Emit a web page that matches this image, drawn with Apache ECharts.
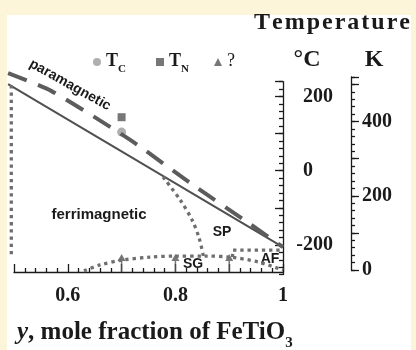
<!DOCTYPE html>
<html>
<head>
<meta charset="utf-8">
<script src="https://cdn.jsdelivr.net/npm/echarts@6/dist/echarts.min.js"></script>
<style>
html, body { margin: 0; padding: 0; background: #fdf5d9; }
#main { width: 416px; height: 350px; }
</style>
</head>
<body>
<div id="main"></div>
<script>
// phase boundaries, x = y (mole fraction FeTiO3), value = temperature in K
var tcBoundary = [[0.489, 506], [1.0, 67]];
var neelBoundary = [[0.489, 536], [0.569, 488], [0.716, 356], [0.835, 232], [0.939, 129], [1.0, 67]];
var ferriEdge = [[0.495, 503], [0.495, 48]];
var spBoundary = [[0.777, 256], [0.809, 194], [0.831, 140], [0.844, 92], [0.852, 43]];
var sgBoundary = [[0.630, 3], [0.660, 19], [0.701, 32], [0.753, 40], [0.801, 43], [0.855, 43], [0.902, 40], [0.954, 27], [1.0, 5]];
var afBoundary = [[0.906, 40], [0.907, 59], [1.0, 59]];

// measured points
var tcPoints = [[0.70, 377]];
var tnPoints = [[0.70, 417]];
var unknownPoints = [[0.7, 38], [0.8, 38], [0.9, 38]];

// tick labels
var xLabels = [0.6, 0.8, 1];
var celsiusLabels = [-200, 0, 200];
var kelvinLabels = [0, 200, 400];

var SERIF = '"Liberation Serif", "Times New Roman", serif';
var SANS = '"Liberation Sans", Arial, sans-serif';
var INK = '#1a1a1a';
var HS = '\u200A'; // hair space, the title is letter spaced

// lines start a little left of y = 0.5 and above the top tick,
// so the marks live in a slightly wider grid (same scale) that is not clipped
var PLOT = 4;

function tickLine(len) {
    return {inside: true, length: len, lineStyle: {color: INK, width: 1.3}};
}
function axisLine(show) {
    return {show: show, onZero: false, lineStyle: {color: INK, width: 1.3}};
}
function hiddenX(i, min) {
    return {gridIndex: i, type: 'value', show: false, min: min, max: 1};
}
function onPlot(s) {
    s.xAxisIndex = PLOT;
    s.yAxisIndex = PLOT + 1;
    return s;
}
function dotted(data, smooth) {
    return onPlot({
        type: 'line', data: data, symbol: 'none', smooth: smooth, silent: true,
        lineStyle: {color: '#6e6e6e', width: 3.3, type: [3.3, 3.9], cap: 'butt'}
    });
}
function plainText(txt, x, y, size) {
    return {
        type: 'text', x: x, y: y, silent: true,
        style: {text: txt, fontFamily: SANS, fontWeight: 'bold', fontSize: size, fill: INK, align: 'center', verticalAlign: 'middle'}
    };
}

var legendRich = {
    t: {fontFamily: SERIF, fontWeight: 'bold', fontSize: 18, color: INK, lineHeight: 20, verticalAlign: 'top'},
    s: {fontFamily: SERIF, fontWeight: 'bold', fontSize: 11, color: INK, lineHeight: 11, padding: [12, 0, 0, 0], verticalAlign: 'top'},
    q: {fontFamily: SERIF, fontSize: 18, color: INK, lineHeight: 20, verticalAlign: 'top'}
};
function legendAt(name, left, icon) {
    return {
        data: [{name: name, icon: icon}], left: left, top: 52, padding: 0,
        itemWidth: 8, itemHeight: 8, selectedMode: false,
        textStyle: {rich: legendRich},
        formatter: function (n) {
            if (n === 'Tc') return '{t|T}{s|C}';
            if (n === 'TN') return '{t|T}{s|N}';
            return '{q|?}';
        }
    };
}

var myChart = echarts.init(document.getElementById('main'));
myChart.setOption({
    animation: false,
    backgroundColor: '#fdf5d9',
    grid: [
        {left: 14, width: 269, top: 79, height: 193, outerBoundsMode: 'none'},       // x axis, 0..520 K
        {left: 14, width: 269, top: 81.6, height: 193, outerBoundsMode: 'none'},     // °C small ticks
        {left: 14, width: 269, top: 81.6, height: 163.3, outerBoundsMode: 'none'},   // °C big ticks
        {left: 351, width: 40, top: 77, height: 193, outerBoundsMode: 'none'},       // K scale
        {left: 5.93, width: 277.07, top: 64.15, height: 207.85, outerBoundsMode: 'none'} // marks, 0.485..1, 0..560 K
    ],
    legend: [legendAt('Tc', 93, 'circle'), legendAt('TN', 156, 'rect'), legendAt('?', 214, 'triangle')],
    xAxis: [{
        gridIndex: 0, type: 'value', min: 0.5, max: 1, interval: 0.1,
        axisLine: axisLine(true),
        axisTick: tickLine(8),
        minorTick: {show: true, splitNumber: 5, length: 4, lineStyle: {color: INK, width: 1.3}},
        minorSplitLine: {show: false},
        splitLine: {show: false},
        axisLabel: {
            margin: 14, color: INK, fontFamily: SERIF, fontWeight: 'bold', fontSize: 20,
            formatter: function (v) {
                var r = Math.round(v * 100) / 100;
                return xLabels.indexOf(r) >= 0 ? String(r) : '';
            }
        }
    }, hiddenX(1, 0), hiddenX(2, 0), hiddenX(3, 0), hiddenX(4, 0.485)],
    yAxis: [
        {gridIndex: 0, type: 'value', min: 0, max: 520, show: false, axisLine: {onZero: false}},
        {
            gridIndex: 1, type: 'value', position: 'right', min: -280, max: 240, interval: 20,
            axisLine: axisLine(true),
            axisTick: tickLine(4), axisLabel: {show: false}, splitLine: {show: false}
        },
        {
            gridIndex: 2, type: 'value', position: 'right', min: -200, max: 240, interval: 100,
            axisLine: axisLine(false), axisTick: tickLine(8), splitLine: {show: false},
            axisLabel: {
                margin: 50, align: 'right', color: INK,
                rich: {
                    n: {fontFamily: SERIF, fontWeight: 'bold', fontSize: 20, color: INK},
                    z: {fontFamily: SERIF, fontWeight: 'bold', fontSize: 20, color: INK, padding: [0, 20, 0, 0]}
                },
                formatter: function (v) {
                    if (celsiusLabels.indexOf(v) < 0) return '';
                    return v === 0 ? '{z|0}' : '{n|' + v + '}';
                }
            }
        },
        {
            gridIndex: 3, type: 'value', position: 'left', min: 0, max: 520, interval: 20,
            axisLine: axisLine(true),
            axisTick: tickLine(4), axisLabel: {show: false}, splitLine: {show: false}
        },
        {
            gridIndex: 3, type: 'value', position: 'left', min: 0, max: 520, interval: 100,
            axisLine: axisLine(false), axisTick: tickLine(8), splitLine: {show: false},
            axisLabel: {
                inside: true, margin: 11, color: INK, fontFamily: SERIF, fontWeight: 'bold', fontSize: 20,
                formatter: function (v) {
                    return kelvinLabels.indexOf(v) >= 0 ? String(v) : '';
                }
            }
        },
        {gridIndex: 4, type: 'value', min: 0, max: 560, show: false, axisLine: {onZero: false}}
    ],
    graphic: {elements: [
        {type: 'rect', z: -100, silent: true, shape: {x: 7, y: 15, width: 404, height: 335}, style: {fill: '#fff'}},
        {
            type: 'text', x: 332, y: 23, silent: true,
            style: {text: 'Temperature'.split('').join(HS), fontFamily: SERIF, fontWeight: 'bold', fontSize: 24, fill: INK, align: 'center', verticalAlign: 'middle'}
        },
        {
            type: 'text', x: 307, y: 60, silent: true,
            style: {text: '°C', fontFamily: SERIF, fontWeight: 'bold', fontSize: 24, fill: INK, align: 'center', verticalAlign: 'middle'}
        },
        {
            type: 'text', x: 374, y: 60, silent: true,
            style: {text: 'K', fontFamily: SERIF, fontWeight: 'bold', fontSize: 24, fill: INK, align: 'center', verticalAlign: 'middle'}
        },
        {
            type: 'text', x: 70, y: 85, rotation: -0.51, silent: true,
            style: {text: 'paramagnetic', fontFamily: SANS, fontWeight: 'bold', fontSize: 14, fill: INK, align: 'center', verticalAlign: 'middle'}
        },
        plainText('ferrimagnetic', 99, 215, 15),
        plainText('SP', 222, 232, 14),
        plainText('SG', 193, 264, 14),
        plainText('AF', 270, 259, 14),
        {
            type: 'text', x: 17, y: 335, silent: true,
            style: {
                text: '{i|y}{b|, mole fraction of FeTiO}{s|3}', align: 'left', verticalAlign: 'middle',
                rich: {
                    i: {fontFamily: SERIF, fontWeight: 'bold', fontStyle: 'italic', fontSize: 25, fill: INK, lineHeight: 30, verticalAlign: 'top'},
                    b: {fontFamily: SERIF, fontWeight: 'bold', fontSize: 25, fill: INK, lineHeight: 30, verticalAlign: 'top'},
                    s: {fontFamily: SERIF, fontWeight: 'bold', fontSize: 15, fill: INK, lineHeight: 15, padding: [16, 0, 0, 0], verticalAlign: 'top'}
                }
            }
        }
    ]},
    series: [
        onPlot({
            name: 'ferri', type: 'line', data: tcBoundary, symbol: 'none', silent: true,
            lineStyle: {color: '#505050', width: 2}
        }),
        onPlot({
            name: 'neel', type: 'line', data: neelBoundary, symbol: 'none', smooth: 0.2, silent: true,
            lineStyle: {color: '#5c5c5c', width: 4, type: [20, 12]}
        }),
        dotted(ferriEdge, false),
        dotted(spBoundary, 0.3),
        dotted(sgBoundary, 0.3),
        dotted(afBoundary, false),
        onPlot({
            name: 'Tc', type: 'scatter', data: tcPoints, symbol: 'circle', symbolSize: 9,
            itemStyle: {color: '#9b9b9b'}
        }),
        onPlot({
            name: 'TN', type: 'scatter', data: tnPoints, symbol: 'rect', symbolSize: 8,
            itemStyle: {color: '#555'}
        }),
        onPlot({
            name: '?', type: 'scatter', data: unknownPoints,
            symbol: 'path://M8,0L16,14L9.5,14L9.5,36L6.5,36L6.5,14L0,14Z',
            symbolSize: [8, 18], symbolOffset: [0, 5],
            itemStyle: {color: '#555'}
        })
    ]
});
</script>
</body>
</html>
